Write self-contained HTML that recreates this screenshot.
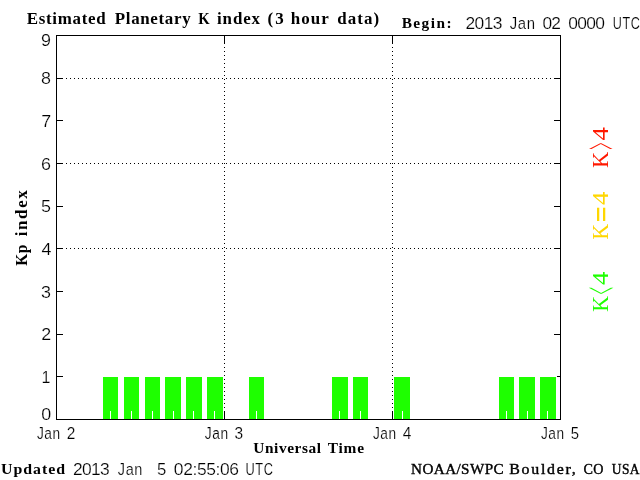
<!DOCTYPE html>
<html lang="en"><head><meta charset="utf-8"><title>Estimated Planetary K index</title>
<style>html,body{margin:0;padding:0;background:#fff;overflow:hidden}svg{display:block}text{white-space:pre}</style></head>
<body>
<svg width="640" height="480" viewBox="0 0 640 480">
<rect width="640" height="480" fill="#fff"/>
<g shape-rendering="crispEdges">
<line x1="58" y1="78.5" x2="560" y2="78.5" stroke="#000" stroke-width="1" stroke-dasharray="1 3"/>
<line x1="58" y1="163.5" x2="560" y2="163.5" stroke="#000" stroke-width="1" stroke-dasharray="1 3"/>
<line x1="58" y1="248.5" x2="560" y2="248.5" stroke="#000" stroke-width="1" stroke-dasharray="1 3"/>
<line x1="224.5" y1="39" x2="224.5" y2="411" stroke="#000" stroke-width="1" stroke-dasharray="1 3"/>
<line x1="392.5" y1="39" x2="392.5" y2="411" stroke="#000" stroke-width="1" stroke-dasharray="1 3"/>
<rect x="56" y="35" width="505" height="1" fill="#000"/>
<rect x="56" y="419" width="505" height="1" fill="#000"/>
<rect x="56" y="35" width="1" height="385" fill="#000"/>
<rect x="560" y="35" width="1" height="385" fill="#000"/>
<rect x="56" y="78" width="7" height="1" fill="#000"/><rect x="554" y="78" width="7" height="1" fill="#000"/>
<rect x="56" y="120" width="7" height="1" fill="#000"/><rect x="554" y="120" width="7" height="1" fill="#000"/>
<rect x="56" y="163" width="7" height="1" fill="#000"/><rect x="554" y="163" width="7" height="1" fill="#000"/>
<rect x="56" y="206" width="7" height="1" fill="#000"/><rect x="554" y="206" width="7" height="1" fill="#000"/>
<rect x="56" y="248" width="7" height="1" fill="#000"/><rect x="554" y="248" width="7" height="1" fill="#000"/>
<rect x="56" y="291" width="7" height="1" fill="#000"/><rect x="554" y="291" width="7" height="1" fill="#000"/>
<rect x="56" y="334" width="7" height="1" fill="#000"/><rect x="554" y="334" width="7" height="1" fill="#000"/>
<rect x="56" y="376" width="7" height="1" fill="#000"/><rect x="554" y="376" width="7" height="1" fill="#000"/>
<rect x="224" y="35" width="1" height="9" fill="#000"/><rect x="224" y="411" width="1" height="9" fill="#000"/>
<rect x="392" y="35" width="1" height="9" fill="#000"/><rect x="392" y="411" width="1" height="9" fill="#000"/>
<rect x="103" y="377" width="15" height="42" fill="#1eff00"/><rect x="110" y="411" width="1" height="8" fill="#fff"/>
<rect x="124" y="377" width="15" height="42" fill="#1eff00"/><rect x="131" y="411" width="1" height="8" fill="#fff"/>
<rect x="145" y="377" width="15" height="42" fill="#1eff00"/><rect x="152" y="411" width="1" height="8" fill="#fff"/>
<rect x="165" y="377" width="16" height="42" fill="#1eff00"/><rect x="173" y="411" width="1" height="8" fill="#fff"/>
<rect x="186" y="377" width="16" height="42" fill="#1eff00"/><rect x="193" y="411" width="1" height="8" fill="#fff"/>
<rect x="207" y="377" width="16" height="42" fill="#1eff00"/><rect x="214" y="411" width="1" height="8" fill="#fff"/>
<rect x="249" y="377" width="15" height="42" fill="#1eff00"/><rect x="256" y="411" width="1" height="8" fill="#fff"/>
<rect x="332" y="377" width="16" height="42" fill="#1eff00"/><rect x="339" y="411" width="1" height="8" fill="#fff"/>
<rect x="353" y="377" width="15" height="42" fill="#1eff00"/><rect x="360" y="411" width="1" height="8" fill="#fff"/>
<rect x="394" y="377" width="16" height="42" fill="#1eff00"/><rect x="402" y="411" width="1" height="8" fill="#fff"/>
<rect x="499" y="377" width="15" height="42" fill="#1eff00"/><rect x="506" y="411" width="1" height="8" fill="#fff"/>
<rect x="519" y="377" width="16" height="42" fill="#1eff00"/><rect x="527" y="411" width="1" height="8" fill="#fff"/>
<rect x="540" y="377" width="16" height="42" fill="#1eff00"/><rect x="547" y="411" width="1" height="8" fill="#fff"/>
<rect x="540" y="376" width="17" height="1" fill="#fff"/>
</g>
<text transform="translate(26.63 24) scale(1.060 1)" font-family="'Liberation Serif', serif" font-size="16" font-weight="bold" letter-spacing="0.656">Estimated</text>
<text transform="translate(114.73 24) scale(1.060 1)" font-family="'Liberation Serif', serif" font-size="16" font-weight="bold" letter-spacing="0.634">Planetary</text>
<text transform="translate(198.35 24) scale(0.920 1)" font-family="'Liberation Serif', serif" font-size="16" font-weight="bold">K</text>
<text transform="translate(216.99 24) scale(1.060 1)" font-family="'Liberation Serif', serif" font-size="16" font-weight="bold" letter-spacing="0.833">index</text>
<text transform="translate(267.60 24) scale(1.060 1)" font-family="'Liberation Serif', serif" font-size="16" font-weight="bold" letter-spacing="1.962">(3</text>
<text transform="translate(290.67 24) scale(1.060 1)" font-family="'Liberation Serif', serif" font-size="16" font-weight="bold" letter-spacing="1.063">hour</text>
<text transform="translate(337.31 24) scale(1.060 1)" font-family="'Liberation Serif', serif" font-size="16" font-weight="bold" letter-spacing="0.966">data)</text>
<text transform="translate(401.63 28) scale(1.060 1)" font-family="'Liberation Serif', serif" font-size="14.5" font-weight="bold" letter-spacing="1.363">Begin:</text>
<text transform="translate(465.38 29) scale(1.090 1)" font-family="'Liberation Sans', sans-serif" font-size="16" font-weight="normal" letter-spacing="-0.499" stroke="#fff" stroke-width="0.2" paint-order="fill stroke">2013</text>
<text transform="translate(509.77 29) scale(0.931 1)" font-family="'Liberation Sans', sans-serif" font-size="16" font-weight="normal" letter-spacing="0.645" stroke="#fff" stroke-width="0.2" paint-order="fill stroke">Jan</text>
<text transform="translate(542.56 29) scale(1.085 1)" font-family="'Liberation Sans', sans-serif" font-size="16" font-weight="normal" letter-spacing="-0.922" stroke="#fff" stroke-width="0.2" paint-order="fill stroke">02</text>
<text transform="translate(568.21 29) scale(1.090 1)" font-family="'Liberation Sans', sans-serif" font-size="16" font-weight="normal" letter-spacing="-0.598" stroke="#fff" stroke-width="0.2" paint-order="fill stroke">0000</text>
<text transform="translate(612.76 29) scale(0.789 1)" font-family="'Liberation Sans', sans-serif" font-size="16" font-weight="normal" letter-spacing="0.761" stroke="#fff" stroke-width="0.2" paint-order="fill stroke">UTC</text>
<text transform="translate(36.89 439) scale(0.857 1)" font-family="'Liberation Sans', sans-serif" font-size="16" font-weight="normal" letter-spacing="0.700" stroke="#fff" stroke-width="0.2" paint-order="fill stroke">Jan</text>
<text transform="translate(66.78 439) scale(0.966 1)" font-family="'Liberation Sans', sans-serif" font-size="16" font-weight="normal" stroke="#fff" stroke-width="0.2" paint-order="fill stroke">2</text>
<text transform="translate(204.79 439) scale(0.859 1)" font-family="'Liberation Sans', sans-serif" font-size="16" font-weight="normal" letter-spacing="0.698" stroke="#fff" stroke-width="0.2" paint-order="fill stroke">Jan</text>
<text transform="translate(234.53 439) scale(0.967 1)" font-family="'Liberation Sans', sans-serif" font-size="16" font-weight="normal" stroke="#fff" stroke-width="0.2" paint-order="fill stroke">3</text>
<text transform="translate(372.89 439) scale(0.857 1)" font-family="'Liberation Sans', sans-serif" font-size="16" font-weight="normal" letter-spacing="0.700" stroke="#fff" stroke-width="0.2" paint-order="fill stroke">Jan</text>
<text transform="translate(402.76 439) scale(0.970 1)" font-family="'Liberation Sans', sans-serif" font-size="16" font-weight="normal" stroke="#fff" stroke-width="0.2" paint-order="fill stroke">4</text>
<text transform="translate(540.89 439) scale(0.857 1)" font-family="'Liberation Sans', sans-serif" font-size="16" font-weight="normal" letter-spacing="0.700" stroke="#fff" stroke-width="0.2" paint-order="fill stroke">Jan</text>
<text transform="translate(570.80 439) scale(0.933 1)" font-family="'Liberation Sans', sans-serif" font-size="16" font-weight="normal" stroke="#fff" stroke-width="0.2" paint-order="fill stroke">5</text>
<text transform="translate(253.34 453) scale(1.060 1)" font-family="'Liberation Serif', serif" font-size="14.5" font-weight="bold" letter-spacing="0.538">Universal</text>
<text transform="translate(327.84 453) scale(1.060 1)" font-family="'Liberation Serif', serif" font-size="14.5" font-weight="bold" letter-spacing="0.715">Time</text>
<text transform="translate(0.98 474.4) scale(1.060 1)" font-family="'Liberation Serif', serif" font-size="15" font-weight="bold" letter-spacing="0.940">Updated</text>
<text transform="translate(72.93 475) scale(1.090 1)" font-family="'Liberation Sans', sans-serif" font-size="16" font-weight="normal" letter-spacing="-0.637" stroke="#fff" stroke-width="0.2" paint-order="fill stroke">2013</text>
<text transform="translate(117.87 475) scale(0.906 1)" font-family="'Liberation Sans', sans-serif" font-size="16" font-weight="normal" letter-spacing="0.662" stroke="#fff" stroke-width="0.2" paint-order="fill stroke">Jan</text>
<text transform="translate(156.97 475) scale(1.047 1)" font-family="'Liberation Sans', sans-serif" font-size="16" font-weight="normal" stroke="#fff" stroke-width="0.2" paint-order="fill stroke">5</text>
<text transform="translate(173.86 475) scale(1.090 1)" font-family="'Liberation Sans', sans-serif" font-size="16" font-weight="normal" letter-spacing="-0.366" stroke="#fff" stroke-width="0.2" paint-order="fill stroke">02:55:06</text>
<text transform="translate(245.50 475) scale(0.800 1)" font-family="'Liberation Sans', sans-serif" font-size="16" font-weight="normal" letter-spacing="0.750" stroke="#fff" stroke-width="0.2" paint-order="fill stroke">UTC</text>
<text transform="translate(411.09 474) scale(1.011 1)" font-family="'Liberation Serif', serif" font-size="15" font-weight="normal" letter-spacing="0.395" stroke="#000" stroke-width="0.4">NOAA/SWPC</text>
<text transform="translate(509.27 474) scale(1.060 1)" font-family="'Liberation Serif', serif" font-size="15" font-weight="normal" letter-spacing="1.617" stroke="#000" stroke-width="0.4">Boulder,</text>
<text transform="translate(583.53 474) scale(0.942 1)" font-family="'Liberation Serif', serif" font-size="15" font-weight="normal" letter-spacing="0.425" stroke="#000" stroke-width="0.4">CO</text>
<text transform="translate(611.78 474) scale(0.897 1)" font-family="'Liberation Serif', serif" font-size="15" font-weight="normal" letter-spacing="0.446" stroke="#000" stroke-width="0.4">USA</text>
<text transform="translate(26.50 265.74) rotate(-90) scale(0.966 1)" font-family="'Liberation Serif', serif" font-size="16" font-weight="bold" letter-spacing="0.414">Kp</text>
<text transform="translate(26.50 236.26) rotate(-90) scale(1.060 1)" font-family="'Liberation Serif', serif" font-size="16" font-weight="bold" letter-spacing="1.528">index</text>
<text transform="translate(608.00 167.90) rotate(-90) scale(0.935 1)" font-family="'Liberation Serif', serif" font-size="24" font-weight="normal" fill="#ff1800">K</text><text transform="translate(616.98 149.67) rotate(-90) scale(0.533 2.035)" font-family="'Liberation Serif', serif" font-size="24" font-weight="normal" fill="#ff1800">&gt;</text><text transform="translate(608.00 140.56) rotate(-90) scale(1.111 1)" font-family="'Liberation Serif', serif" font-size="24" font-weight="normal" fill="#ff1800">4</text>
<text transform="translate(608.00 239.69) rotate(-90) scale(0.923 1)" font-family="'Liberation Serif', serif" font-size="24" font-weight="normal" fill="#ffd700">K</text><text transform="translate(611.67 222.50) rotate(-90) scale(1.200 1.277)" font-family="'Liberation Serif', serif" font-size="24" font-weight="bold" fill="#ffd700">=</text><text transform="translate(608.00 204.96) rotate(-90) scale(1.111 1)" font-family="'Liberation Serif', serif" font-size="24" font-weight="normal" fill="#ffd700">4</text>
<text transform="translate(608.00 311.68) rotate(-90) scale(0.908 1)" font-family="'Liberation Serif', serif" font-size="24" font-weight="normal" fill="#1eff00">K</text><text transform="translate(617.70 294.43) rotate(-90) scale(0.545 2.087)" font-family="'Liberation Serif', serif" font-size="24" font-weight="normal" fill="#1eff00">&lt;</text><text transform="translate(608.00 284.96) rotate(-90) scale(1.111 1)" font-family="'Liberation Serif', serif" font-size="24" font-weight="normal" fill="#1eff00">4</text>
<text transform="translate(41.01 46) scale(1.120 1)" font-family="'Liberation Sans', sans-serif" font-size="16" font-weight="normal" stroke="#fff" stroke-width="0.2" paint-order="fill stroke">9</text>
<text transform="translate(41.01 84) scale(1.120 1)" font-family="'Liberation Sans', sans-serif" font-size="16" font-weight="normal" stroke="#fff" stroke-width="0.2" paint-order="fill stroke">8</text>
<text transform="translate(41.15 127) scale(1.120 1)" font-family="'Liberation Sans', sans-serif" font-size="16" font-weight="normal" stroke="#fff" stroke-width="0.2" paint-order="fill stroke">7</text>
<text transform="translate(41.01 170) scale(1.120 1)" font-family="'Liberation Sans', sans-serif" font-size="16" font-weight="normal" stroke="#fff" stroke-width="0.2" paint-order="fill stroke">6</text>
<text transform="translate(41.01 212) scale(1.120 1)" font-family="'Liberation Sans', sans-serif" font-size="16" font-weight="normal" stroke="#fff" stroke-width="0.2" paint-order="fill stroke">5</text>
<text transform="translate(41.58 255) scale(1.120 1)" font-family="'Liberation Sans', sans-serif" font-size="16" font-weight="normal" stroke="#fff" stroke-width="0.2" paint-order="fill stroke">4</text>
<text transform="translate(41.01 298) scale(1.120 1)" font-family="'Liberation Sans', sans-serif" font-size="16" font-weight="normal" stroke="#fff" stroke-width="0.2" paint-order="fill stroke">3</text>
<text transform="translate(41.15 340) scale(1.120 1)" font-family="'Liberation Sans', sans-serif" font-size="16" font-weight="normal" stroke="#fff" stroke-width="0.2" paint-order="fill stroke">2</text>
<text transform="translate(41.55 383) scale(1.000 1)" font-family="'Liberation Sans', sans-serif" font-size="16" font-weight="normal" stroke="#fff" stroke-width="0.2" paint-order="fill stroke">1</text>
<text transform="translate(41.15 420) scale(1.120 1)" font-family="'Liberation Sans', sans-serif" font-size="16" font-weight="normal" stroke="#fff" stroke-width="0.2" paint-order="fill stroke">0</text>
</svg>
</body></html>
